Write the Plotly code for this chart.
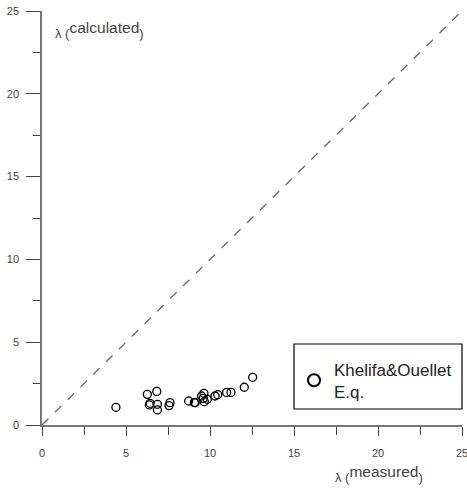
import plotly.graph_objects as go

measured = [4.40, 6.27, 6.83, 6.43, 6.39, 6.87, 6.87, 7.62, 7.56, 8.73, 9.07, 9.12,
            9.50, 9.64, 9.60, 9.66, 9.84, 10.30, 10.46, 10.99, 11.25, 12.04, 12.54]
calculated = [1.07, 1.85, 2.03, 1.31, 1.21, 1.25, 0.91, 1.35, 1.17, 1.45, 1.35, 1.36,
              1.75, 1.91, 1.61, 1.41, 1.55, 1.75, 1.83, 1.97, 1.97, 2.28, 2.88]
line_range = [0, 25]
tick_vals = [0, 5, 10, 15, 20, 25]
legend_name = "Khelifa&Ouellet<br>E.q."

font = "Arial"

fig = go.Figure()
fig.add_trace(go.Scatter(x=line_range, y=line_range, mode="lines",
                         line=dict(color="#666666", width=1.3, dash="dash"),
                         showlegend=False, hoverinfo="skip"))
fig.add_trace(go.Scatter(x=measured, y=calculated, mode="markers", name=legend_name,
                         marker=dict(symbol="circle-open", size=8, color="black",
                                     line=dict(width=1.3, color="black"))))

axis_common = dict(range=[0, 25], tickvals=tick_vals, showgrid=False, zeroline=False,
                   showline=True, linecolor="#777777", linewidth=1.5, automargin=False,
                   ticks="outside", tickcolor="#444444", tickwidth=1.2,
                   ticklabeloverflow="allow",
                   tickfont=dict(family=font, size=11, color="#444444"))
fig.update_xaxes(**axis_common, ticklen=9, ticklabelstandoff=8,
                 minor=dict(dtick=2.5, ticks="outside", ticklen=8, tickcolor="#444444"))
fig.update_yaxes(**axis_common, ticklen=14, ticklabelstandoff=5,
                 minor=dict(dtick=2.5, ticks="outside", ticklen=7, tickcolor="#444444"))

fig.add_annotation(x=0.027, y=0.985, xref="paper", yref="paper", xanchor="left", yanchor="top",
                   showarrow=False,
                   text='λ (<sup><span style="font-size:15.5px">calculated</span></sup>)',
                   font=dict(family=font, size=13, color="#444444"))
fig.add_annotation(x=0.692, y=-0.088, xref="paper", yref="paper", xanchor="left", yanchor="top",
                   showarrow=False,
                   text='λ (<sup><span style="font-size:15.5px">measured</span></sup>)',
                   font=dict(family=font, size=13, color="#444444"))

# legend frame
fig.add_shape(type="rect", xref="paper", yref="paper", x0=0.6, x1=1.0, y0=0.0386, y1=0.1957,
              line=dict(color="black", width=1.2), fillcolor="white", layer="below")

fig.update_layout(
    width=467, height=491,
    margin=dict(l=42, r=5, t=11, b=66),
    plot_bgcolor="white", paper_bgcolor="white",
    showlegend=True,
    legend=dict(x=0.6, y=0.107, xanchor="left", yanchor="middle",
                borderwidth=0, bgcolor="rgba(0,0,0,0)",
                font=dict(family=font, size=17, color="#222222"),
                itemsizing="constant"),
)
fig.write_html("out.html", config={"displayModeBar": False},
               post_script="document.body.style.margin='0';document.body.style.overflow='hidden';")
